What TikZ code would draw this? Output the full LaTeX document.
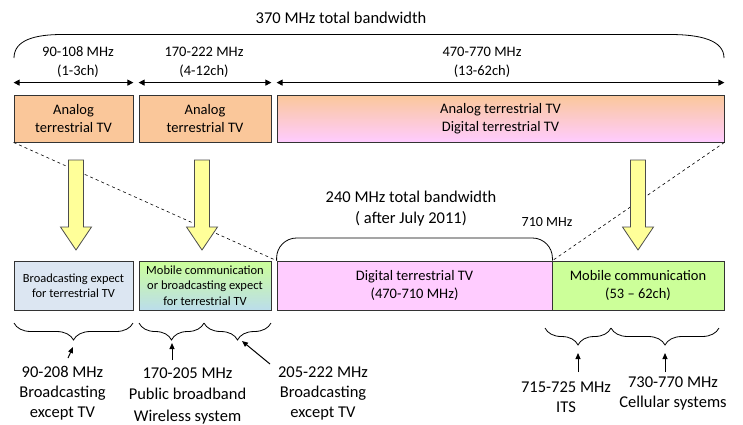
\documentclass[tikz,border=0pt]{standalone}
\usepackage{fontspec}
\setmainfont{Carlito}
\usetikzlibrary{arrows.meta,decorations.pathreplacing}

\definecolor{analogorange}{HTML}{FAC79A}
\definecolor{digitalpink}{HTML}{FFCCFF}
\definecolor{mobilegreen}{HTML}{CCFF99}
\definecolor{bcastblue}{HTML}{DCE6F2}
\definecolor{fadeblue}{HTML}{BBDDEB}
\definecolor{arrowyellow}{HTML}{FFFF99}

\tikzset{
	band/.style={draw=black!80, line width=0.8pt, inner sep=0pt, align=center,
		font=\fontsize{14.5}{18}\selectfont, minimum height=47pt},
	lowband/.style={band, minimum height=49pt},
	span/.style={{Triangle[length=6pt,width=6pt]}-{Triangle[length=6pt,width=6pt]}, line width=1pt},
	freq/.style={align=center, inner sep=0pt, font=\fontsize{14.5}{19}\selectfont},
	note/.style={align=center, inner sep=0pt, font=\fontsize{16.5}{20}\selectfont},
	curly/.style={decorate, decoration={brace, mirror, amplitude=17pt}, line width=0.8pt},
	ptr/.style={-{Triangle[length=6pt,width=5pt]}, line width=1pt},
	yarrow/.pic={
		\draw[fill=arrowyellow, draw=black!70, line width=0.8pt]
			(-7.5,0) -- (7.5,0) -- (7.5,67) -- (15.5,67) -- (0,90)
			-- (-15.5,67) -- (-7.5,67) -- cycle;
	}
}

\begin{document}
\begin{tikzpicture}[x=1pt, y=-1pt]
	\useasboundingbox (0,0) rectangle (743,424);

	% before
	\node[note] (total1) at (341,18) {370 MHz total bandwidth};
	\coordinate (bwL) at (14,58);
	\coordinate (bwR) at (724,58);
	\draw[line width=0.8pt] (bwL) .. controls (14,40) and (35,34.5) .. (62,34.5)
		-- (670,34.5) .. controls (700,34.5) and (724,40) .. (bwR);

	\node[band, minimum width=119pt, fill=analogorange] (ana1) at (73.5,118.5) {Analog\\terrestrial TV};
	\node[band, minimum width=132pt, fill=analogorange] (ana2) at (205,118.5) {Analog\\terrestrial TV};
	\node[band, minimum width=447pt, top color=analogorange, bottom color=digitalpink] (ana3) at (500.5,118.5)
		{Analog terrestrial TV\\Digital terrestrial TV};

	\draw[span] ([yshift=12pt]ana1.north west) -- ([yshift=12pt]ana1.north east);
	\draw[span] ([yshift=12pt]ana2.north west) -- ([yshift=12pt]ana2.north east);
	\draw[span] ([yshift=12pt]ana3.north west) -- ([yshift=12pt]ana3.north east);
	\node[freq] (f1) at (78,62.5) {90-108 MHz\\(1-3ch)};
	\node[freq] (f2) at (204,62.5) {170-222 MHz\\(4-12ch)};
	\node[freq] (f3) at (482,62.5) {470-770 MHz\\(13-62ch)};

	% after
	\node[lowband, minimum width=119pt, fill=bcastblue, font=\fontsize{12.4}{15}\selectfont] (bcast) at (73.5,285.5)
		{Broadcasting expect\\for terrestrial TV};
	\node[lowband, minimum width=132pt, top color=mobilegreen, bottom color=fadeblue, font=\fontsize{12.5}{15.5}\selectfont] (mix) at (205,285.5)
		{Mobile communication\\or broadcasting expect\\for terrestrial TV};
	\node[lowband, minimum width=275pt, fill=digitalpink] (digi) at (414.5,285.5)
		{Digital terrestrial TV\\(470-710 MHz)};
	\node[lowband, minimum width=172pt, fill=mobilegreen] (mobile) at (638,285.5)
		{Mobile communication\\(53 -- 62ch)};

	\draw[dashed, line width=0.6pt] (ana1.south west) -- (digi.north west);
	\draw[dashed, line width=0.6pt] (ana3.south east) -- (digi.north east);

	\pic at (76,160) {yarrow};
	\pic at (202,160) {yarrow};
	\pic at (638,160) {yarrow};

	\coordinate (after) at (414.5,238);
	\draw[line width=0.8pt, rounded corners=20pt] (digi.north west) |- (after) -| (digi.north east);
	\node[note, font=\fontsize{16.5}{21}\selectfont] (total2) at (411,208.5) {240 MHz total bandwidth\\( after July 2011)};
	\node[freq, font=\fontsize{14}{17}\selectfont] (edge) at (547,222) {710 MHz};

	% braces
	\coordinate (bA1) at (14,323);
	\coordinate (bA2) at (133,323);
	\coordinate (bB1) at (139,323);
	\coordinate (bB2) at (204,323);
	\coordinate (bB3) at (271,323);
	\coordinate (bD1) at (545,328);
	\coordinate (bD2) at (611,328);
	\coordinate (bD3) at (719,328);
	\draw[curly] (bA1) -- (bA2);
	\draw[curly] (bB1) -- (bB2);
	\draw[curly] (bB2) -- (bB3);
	\draw[curly] (bD1) -- (bD2);
	\draw[curly] (bD2) -- (bD3);

	\node[note] (lA) at (62.5,393) {90-208 MHz\\Broadcasting\\except TV};
	\node[note, font=\fontsize{16.5}{21.5}\selectfont] (lB1) at (187.5,395.5) {170-205 MHz\\Public broadband\\Wireless system};
	\node[note] (lB2) at (323,393) {205-222 MHz\\Broadcasting\\except TV};
	\node[note] (lD1) at (566,397) {715-725 MHz\\ITS};
	\node[note] (lD2) at (673,393) {730-770 MHz\\Cellular systems};

	\coordinate (tA) at (73,347);
	\coordinate (tB1) at (172,343);
	\coordinate (tB2) at (242,341);
	\coordinate (tD1) at (578,353);
	\coordinate (tD2) at (665,353);
	\coordinate (sA) at (68,358);
	\coordinate (sB2) at (270,364);
	\draw[ptr] (sA) -- (tA);
	\draw[ptr] (tB1 |- 0,360) -- (tB1);
	\draw[ptr] (sB2) -- (tB2);
	\draw[ptr] (tD1 |- 0,372) -- (tD1);
	\draw[ptr] (tD2 |- 0,372) -- (tD2);
\end{tikzpicture}
\end{document}
